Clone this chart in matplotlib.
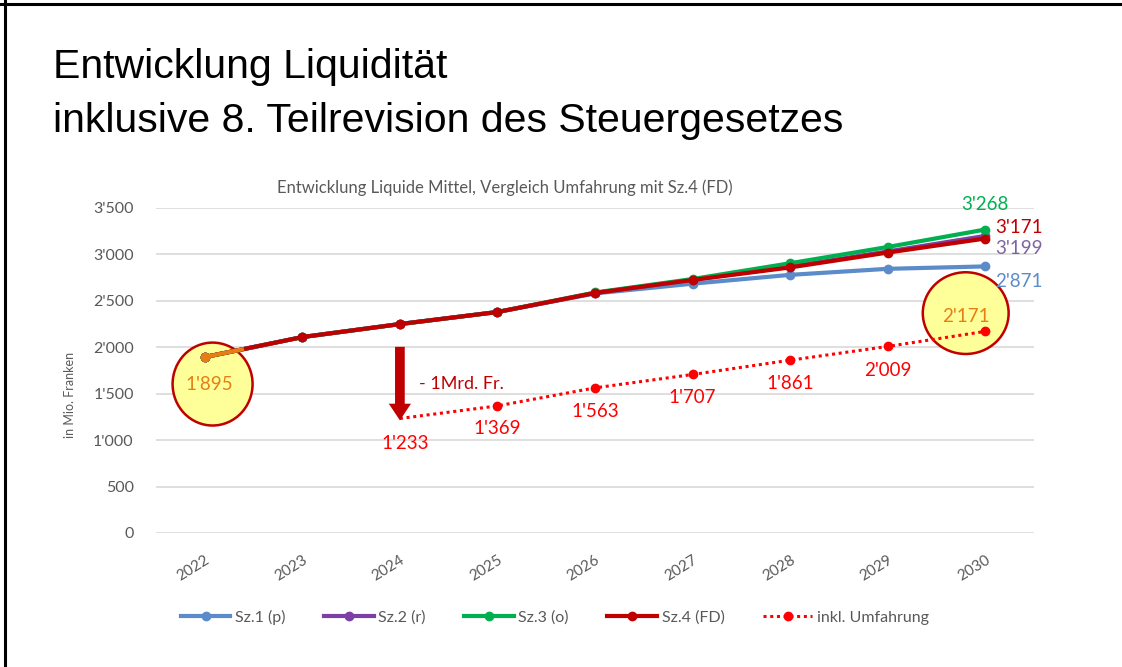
import numpy as np
import matplotlib
matplotlib.use("Agg")
import matplotlib.pyplot as plt
from matplotlib.patches import Ellipse
from matplotlib.lines import Line2D

# ── Data ──────────────────────────────────────────────────────────────────────
years = ["2022", "2023", "2024", "2025", "2026", "2027", "2028", "2029", "2030"]
sz1 = [1895, 2110, 2250, 2380, 2580, 2685, 2780, 2845, 2871]
sz2 = [1895, 2110, 2250, 2380, 2585, 2728, 2868, 3032, 3199]
sz3 = [1895, 2110, 2250, 2380, 2590, 2735, 2905, 3080, 3268]
sz4 = [1895, 2110, 2250, 2380, 2585, 2725, 2860, 3020, 3171]
umf = [np.nan, np.nan, 1233, 1369, 1563, 1707, 1861, 2009, 2171]
start_value = 1895
yticks = [0, 500, 1000, 1500, 2000, 2500, 3000, 3500]
ytick_labels = ["0", "500", "1'000", "1'500", "2'000", "2'500", "3'000", "3'500"]

C_BLUE = "#5B8BC8"
C_PURPLE = "#7B3FA6"
C_GREEN = "#00B050"
C_DRED = "#C00000"
C_RED = "#FF0000"
C_ORANGE = "#E67E16"
C_GREY = "#595959"

BODY = ["Lato", "DejaVu Sans"]

fig = plt.figure(figsize=(11.22, 6.67), dpi=100)
W, H = 1122, 667

# slide frame (top + left border)
fig.add_artist(Line2D([0, 1], [1 - 4 / H, 1 - 4 / H], color="black", lw=2.2))
fig.add_artist(Line2D([5 / W, 5 / W], [0, 1], color="black", lw=2.2))

fig.text(53 / W, 1 - 78 / H, "Entwicklung Liquidität", fontsize=29.5,
         family="Liberation Sans", va="baseline", ha="left")
fig.text(53 / W, 1 - 132 / H, "inklusive 8. Teilrevision des Steuergesetzes", fontsize=29.5,
         family="Liberation Sans", va="baseline", ha="left")

ax = fig.add_axes([156 / W, (H - 533) / H, (1034 - 156) / W, (533 - 208) / H])
x = np.arange(len(years))

ax.plot(x, sz1, color=C_BLUE, lw=3, marker="o", ms=6, label="Sz.1 (p)", zorder=3)
ax.plot(x, sz2, color=C_PURPLE, lw=3, marker="o", ms=6, label="Sz.2 (r)", zorder=3)
ax.plot(x, sz3, color=C_GREEN, lw=3, marker="o", ms=6, label="Sz.3 (o)", zorder=4)
ax.plot(x, sz4, color=C_DRED, lw=3, marker="o", ms=6, label="Sz.4 (FD)", zorder=5)
ax.plot(x, umf, color=C_RED, lw=2.2, ls=(0, (1, 1.2)), marker="o", ms=6,
        markevery=list(range(3, len(years))), label="inkl. Umfahrung", zorder=5)

# highlighted start (orange)
f = 0.38
ax.plot([0, f], [start_value, start_value + f * (sz4[1] - sz4[0])],
        color=C_ORANGE, lw=3, zorder=7)
ax.plot([0], [start_value], "o", color=C_ORANGE, ms=6, zorder=7)

# yellow circles
ax.add_patch(Ellipse((0.08, 1604), 0.82, 893, facecolor="#FFFF99", edgecolor=C_DRED,
                     lw=1.8, zorder=2, clip_on=False))
ax.add_patch(Ellipse((7.8, 2368), 0.88, 880, facecolor="#FFFF99", edgecolor=C_DRED,
                     lw=1.8, zorder=2, clip_on=False))

# arrow at 2024
ax.annotate("", xy=(2, umf[2] - 50), xytext=(2, 2035),
            arrowprops=dict(arrowstyle="simple,head_width=1.6,head_length=1.2,tail_width=0.7",
                            color=C_DRED, lw=0), zorder=6)
ax.text(2.2, 1605, "- 1Mrd. Fr.", color=C_DRED, fontsize=13, family=BODY,
        ha="left", va="center")

# value labels
def lab(text, xi, yv, color, ha="center"):
    ax.text(xi, yv, text, color=color, fontsize=13.5, family=BODY, ha=ha, va="center",
            zorder=8, clip_on=False)

lab("1'895", 0.05, 1600, C_ORANGE)
lab("1'233", 2.05, 962, C_RED)
lab("1'369", 3.0, 1125, C_RED)
lab("1'563", 4.0, 1305, C_RED)
lab("1'707", 5.0, 1455, C_RED)
lab("1'861", 6.0, 1605, C_RED)
lab("2'009", 7.0, 1755, C_RED)
lab("2'171", 7.8, 2335, C_ORANGE)
lab("3'268", 8.0, 3540, C_GREEN)
lab("3'171", 8.1, 3285, C_DRED, ha="left")
lab("3'199", 8.1, 3060, "#8064A2", ha="left")
lab("2'871", 8.1, 2710, C_BLUE, ha="left")

ax.set_xlim(-0.5, len(years) - 0.5)
ax.set_ylim(0, 3500)
ax.set_xticks(x)
ax.set_xticklabels(years, rotation=32, ha="right", va="top", rotation_mode="anchor",
                   fontsize=11, color=C_GREY, family=BODY)
ax.set_yticks(yticks)
ax.set_yticklabels(ytick_labels, fontsize=11.5, color=C_GREY, family=BODY)
ax.tick_params(axis="y", length=0, pad=16)
ax.tick_params(axis="x", length=0, pad=14)
for s in ax.spines.values():
    s.set_visible(False)
ax.grid(True, axis="y", color="#D9D9D9", lw=1.2)
ax.set_axisbelow(True)

fig.text(70 / W, (H - 395) / H, "in Mio. Franken", rotation=90, fontsize=9,
         color=C_GREY, family=BODY, ha="center", va="center")
fig.text(505 / W, (H - 188) / H, "Entwicklung Liquide Mittel, Vergleich Umfahrung mit Sz.4 (FD)",
         fontsize=12, color=C_GREY, family=BODY, ha="center", va="center")

fig.legend(loc="center", bbox_to_anchor=(555 / W, (H - 617) / H), ncol=5, frameon=False,
           prop={"family": BODY, "size": 11.5}, labelcolor=C_GREY, handlelength=3.1,
           columnspacing=2.4, handletextpad=0.3)

fig.savefig("out.png", dpi=100)
